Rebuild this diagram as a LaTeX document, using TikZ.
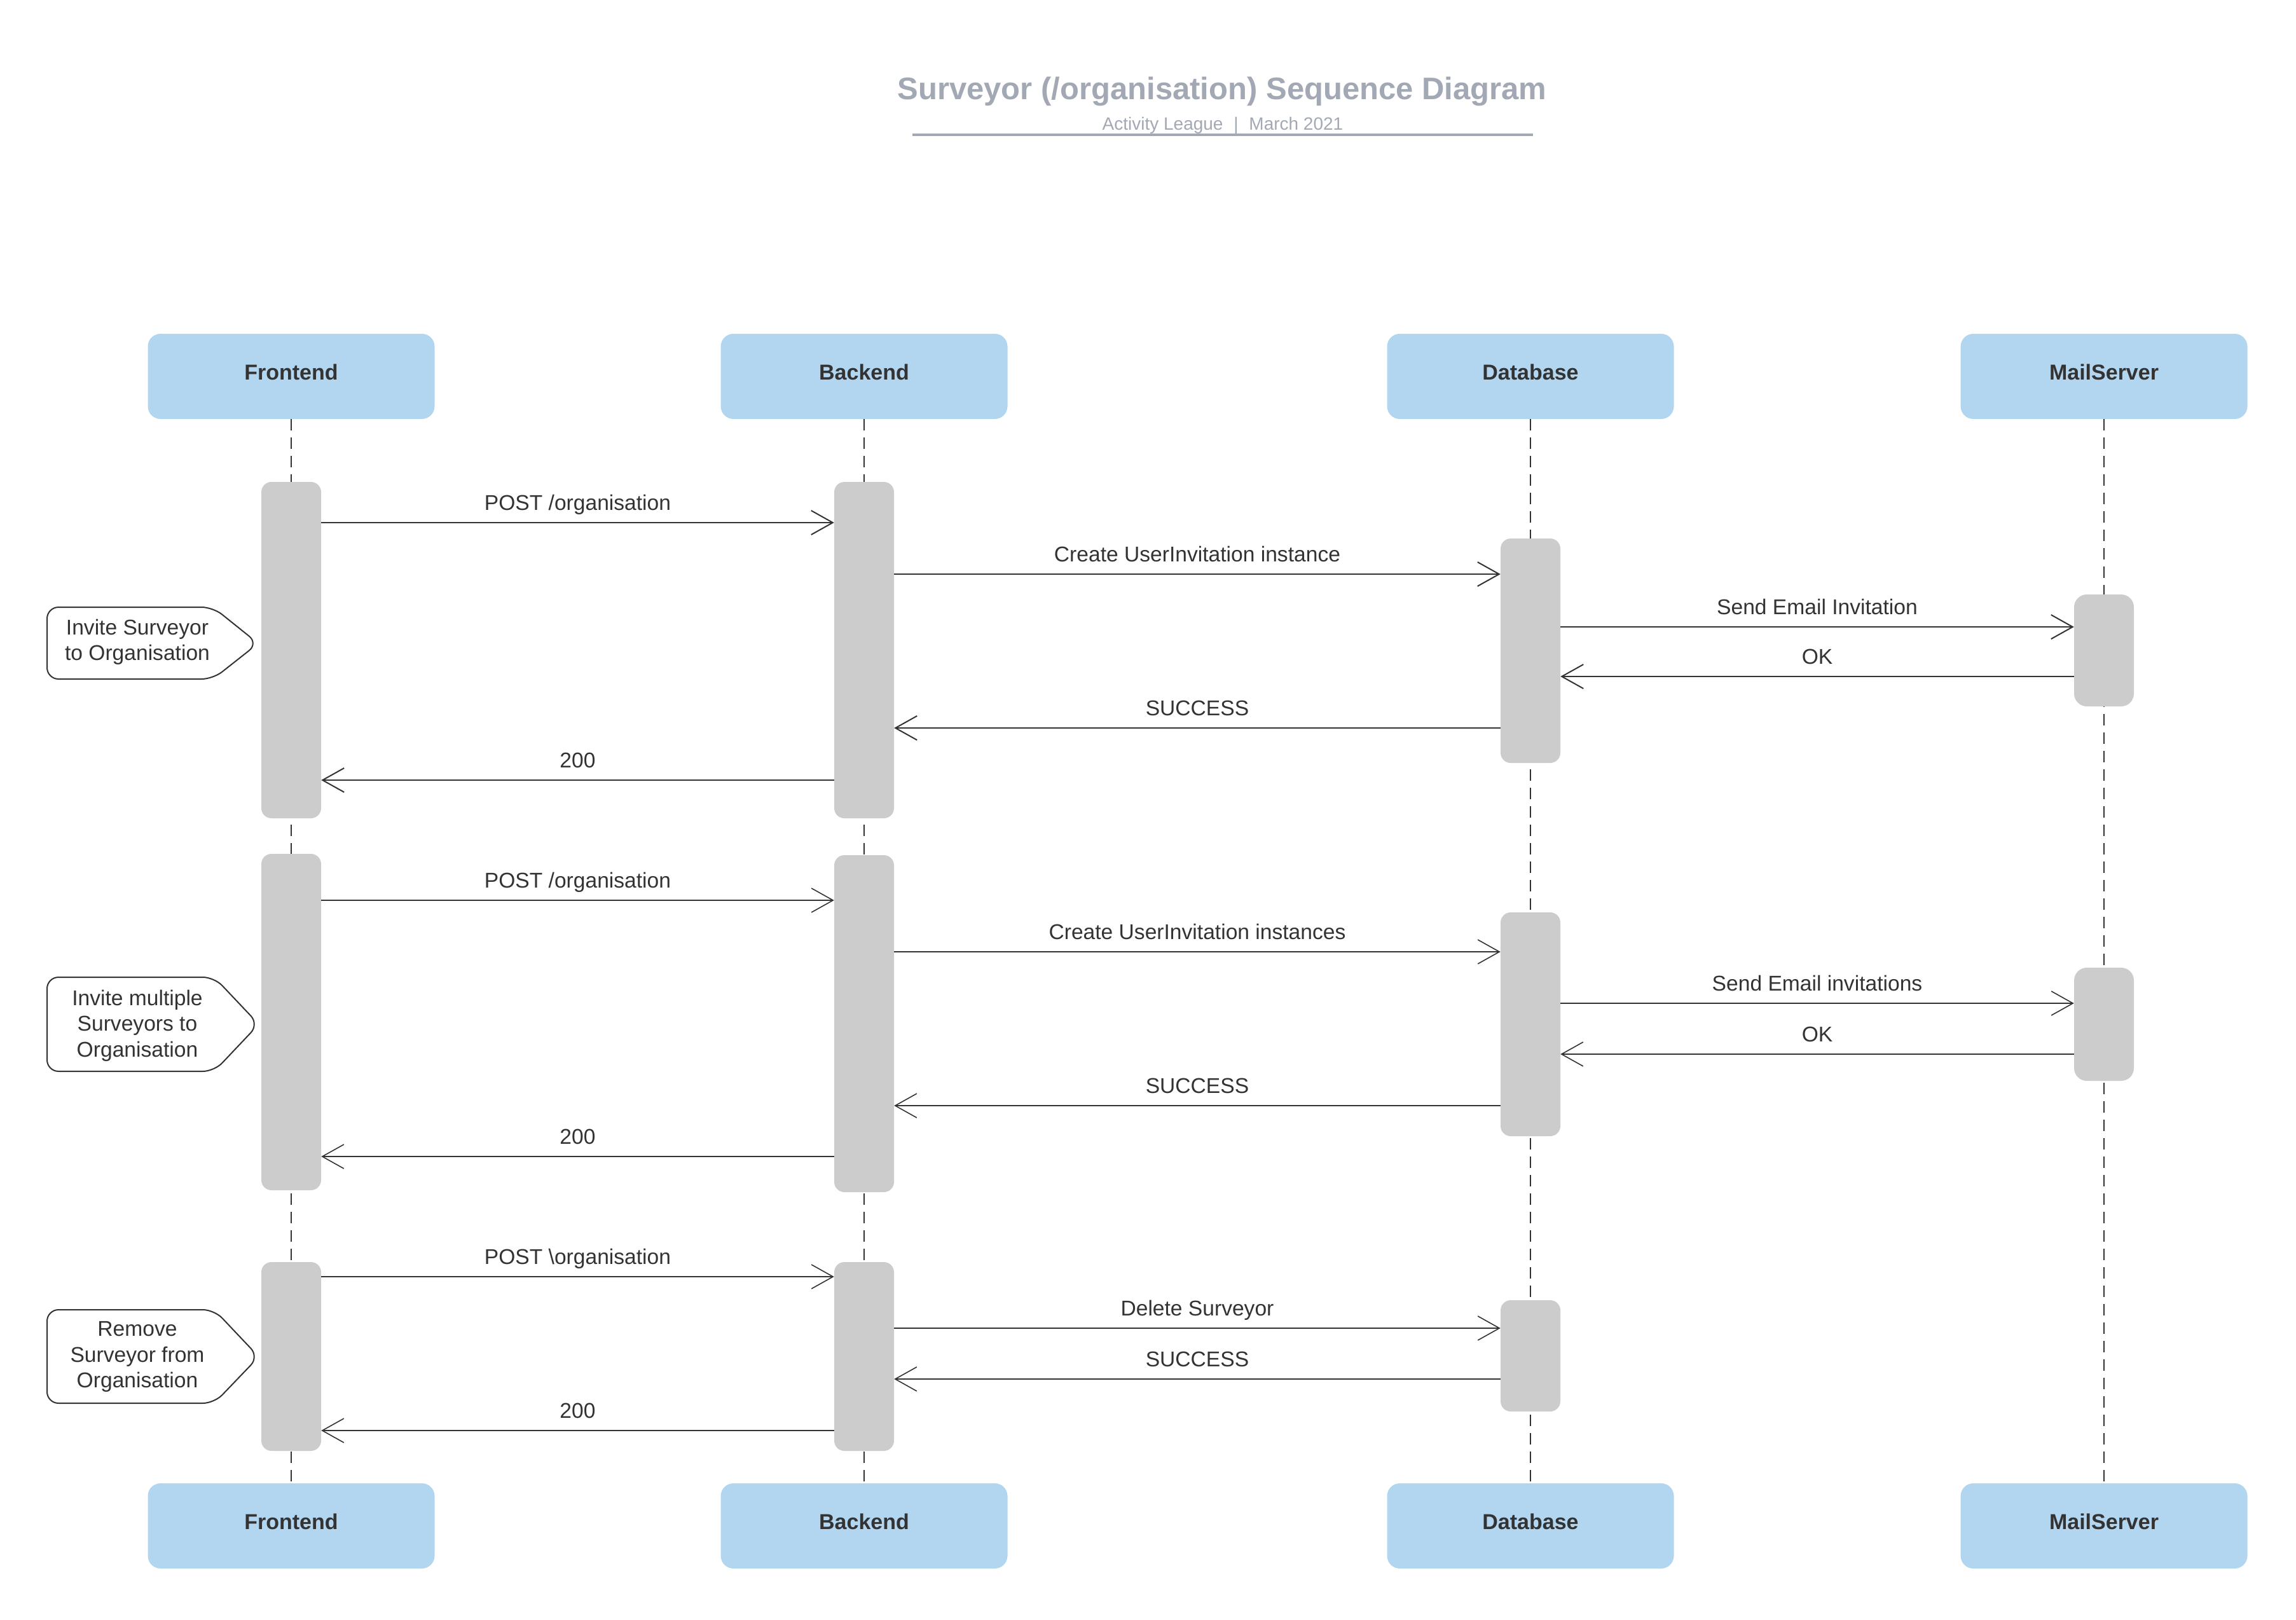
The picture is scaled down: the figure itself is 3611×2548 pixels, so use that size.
\documentclass[tikz,border=0pt]{standalone}
\usepackage{fontspec}
\setmainfont{Liberation Sans}
\usetikzlibrary{arrows.meta,calc}
\definecolor{boxblue}{HTML}{B3D6F0}
\definecolor{bargray}{HTML}{CCCCCC}
\definecolor{ink}{HTML}{333333}
\definecolor{titlegray}{HTML}{A3A9B4}
\tikzset{
  participant/.style={rectangle, rounded corners=20pt, fill=boxblue, minimum width=451pt, minimum height=134pt, inner sep=0pt, text depth=14pt, text=ink, font=\fontsize{34}{40}\selectfont\bfseries},
  actbar/.style={rectangle, rounded corners=16pt, fill=bargray, minimum width=94pt, inner sep=0pt},
  lifeline/.style={draw=ink, line width=2.5pt, dash pattern=on 18pt off 11pt},
  msgthick/.style={draw=ink, line width=2pt, -{Straight Barb[length=34pt,width=38pt,line width=2pt]}},
  msgthin/.style={draw=ink, line width=1.4pt, -{Straight Barb[length=34pt,width=38pt,line width=1.6pt]}},
  msglabel/.style={anchor=base, text=ink, font=\fontsize{33.6}{40}\selectfont, inner sep=0pt},
  notetext/.style={align=center, text=ink, font=\fontsize{33.6}{40.5}\selectfont, inner sep=0pt},
  noteshape/.style={draw=ink, line width=2pt, rounded corners=18pt, fill=white},
  titletext/.style={text=titlegray, font=\fontsize{49}{58}\selectfont\bfseries, inner sep=0pt},
  subtitletext/.style={text=titlegray, font=\fontsize{28}{34}\selectfont, inner sep=0pt},
}
\newcommand\msgline[5]{\draw[#1] (#2 |- 0,#4) -- (#3 |- 0,#4) node[msglabel, midway, yshift=20pt]{#5};}
\begin{document}
\begin{tikzpicture}[x=1pt,y=-1pt]
\useasboundingbox[fill=white] (0,0) rectangle (3611,2548);

% title
\node[titletext] (title) at (1922,144) {Surveyor (/organisation) Sequence Diagram};
\node[subtitletext] (subtitle) at (1923,197) {Activity League\hspace{0.6em}|\hspace{0.6em}March 2021};
\coordinate (ulL) at (1435,212);
\coordinate (ulR) at (2411,212);
\draw[titlegray, line width=4pt] (ulL) -- (ulR);

% participants
\node[participant] (ftop) at (458,592) {Frontend};
\node[participant] (btop) at (1359,592) {Backend};
\node[participant] (dtop) at (2407,592) {Database};
\node[participant] (mtop) at (3309,592) {MailServer};
\node[participant] (fbot) at (458,2400) {Frontend};
\node[participant] (bbot) at (1359,2400) {Backend};
\node[participant] (dbot) at (2407,2400) {Database};
\node[participant] (mbot) at (3309,2400) {MailServer};

% lifelines
\draw[lifeline] (ftop.south) -- (fbot.north);
\draw[lifeline] (btop.south) -- (bbot.north);
\draw[lifeline] (dtop.south) -- (dbot.north);
\draw[lifeline] (mtop.south) -- (mbot.north);

% activation bars
\node[actbar, minimum height=529pt] (f1) at (458,1022.5) {};
\node[actbar, minimum height=529pt] (f2) at (458,1607.5) {};
\node[actbar, minimum height=297pt] (f3) at (458,2133.5) {};
\node[actbar, minimum height=529pt] (b1) at (1359,1022.5) {};
\node[actbar, minimum height=530pt] (b2) at (1359,1610) {};
\node[actbar, minimum height=297pt] (b3) at (1359,2133.5) {};
\node[actbar, minimum height=353pt] (d1) at (2407,1023.5) {};
\node[actbar, minimum height=352pt] (d2) at (2407,1611) {};
\node[actbar, minimum height=175pt] (d3) at (2407,2132.5) {};
\node[actbar, minimum height=176pt, rounded corners=20pt] (m1) at (3309,1023) {};
\node[actbar, minimum height=178pt, rounded corners=20pt] (m2) at (3309,1611) {};

% group 1
\msgline{msgthick}{f1.east}{b1.west}{822}{POST /organisation}
\msgline{msgthick}{b1.east}{d1.west}{903}{Create UserInvitation instance}
\msgline{msgthick}{d1.east}{m1.west}{986}{Send Email Invitation}
\msgline{msgthick}{m1.west}{d1.east}{1064}{OK}
\msgline{msgthick}{d1.west}{b1.east}{1145}{SUCCESS}
\msgline{msgthick}{b1.west}{f1.east}{1227}{200}

% group 2
\msgline{msgthin}{f2.east}{b2.west}{1416}{POST /organisation}
\msgline{msgthin}{b2.east}{d2.west}{1497}{Create UserInvitation instances}
\msgline{msgthin}{d2.east}{m2.west}{1578}{Send Email invitations}
\msgline{msgthin}{m2.west}{d2.east}{1658}{OK}
\msgline{msgthin}{d2.west}{b2.east}{1739}{SUCCESS}
\msgline{msgthin}{b2.west}{f2.east}{1819}{200}

% group 3
\msgline{msgthin}{f3.east}{b3.west}{2008}{POST \textbackslash organisation}
\msgline{msgthin}{b3.east}{d3.west}{2089}{Delete Surveyor}
\msgline{msgthin}{d3.west}{b3.east}{2169}{SUCCESS}
\msgline{msgthin}{b3.west}{f3.east}{2250}{200}

% notes
\draw[noteshape] (335,955) -- (74,955) -- (74,1068) -- (335,1068) -- (406,1012) -- cycle;
\node[notetext] (n1) at (216,1010) {Invite Surveyor\\to Organisation};
\draw[noteshape] (337,1537) -- (74,1537) -- (74,1685) -- (337,1685) -- (407,1611) -- cycle;
\node[notetext] (n2) at (216,1613) {Invite multiple\\Surveyors to\\Organisation};
\draw[noteshape] (337,2060) -- (74,2060) -- (74,2207) -- (337,2207) -- (407,2134) -- cycle;
\node[notetext] (n3) at (216,2134) {Remove\\Surveyor from\\Organisation};
\end{tikzpicture}
\end{document}
